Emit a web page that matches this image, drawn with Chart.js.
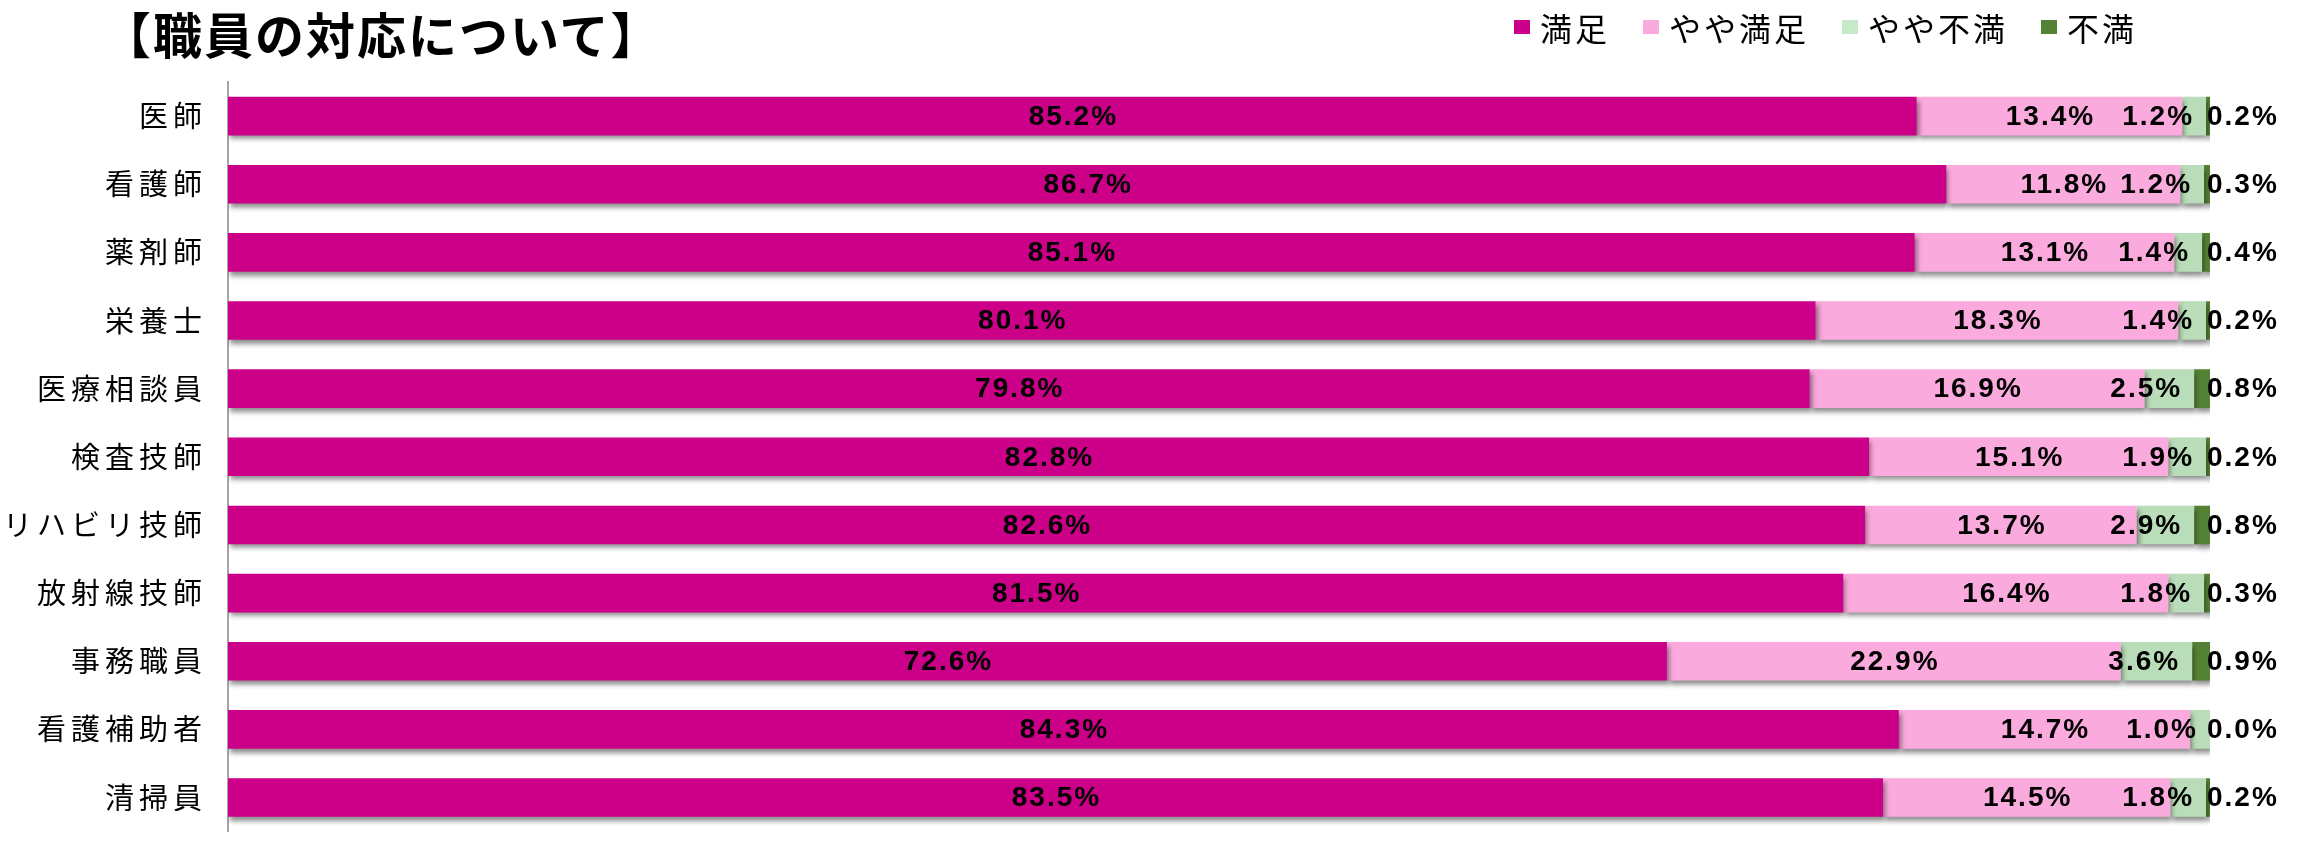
<!DOCTYPE html>
<html>
<head>
<meta charset="utf-8">
<script src="https://cdn.jsdelivr.net/npm/chart.js@4.4.0/dist/chart.umd.min.js"></script>
<style>
    html, body { margin: 0; padding: 0; background: #fff; overflow: hidden; }
    #wrap { position: relative; width: 2302px; height: 849px; overflow: hidden; }
    #title {
        position: absolute; left: 102px; top: -3px; line-height: 52px;
        font: bold 49px "Noto Sans CJK JP", sans-serif; letter-spacing: 2px; color: #000; white-space: nowrap;
    }
    #legend {
        position: absolute; left: 1514px; top: 0; height: 54px;
        display: flex; align-items: center;
        font: 32px "Noto Sans CJK JP", sans-serif; letter-spacing: 3px; color: #000;
    }
    #legend .item { display: flex; align-items: center; margin-right: 33px; }
    #legend .box { width: 16px; height: 14px; margin-right: 10px; }
    #chart { position: absolute; left: 0; top: 0; }
</style>
</head>
<body>
<div id="wrap">
    <canvas id="chart" width="2302" height="870"></canvas>
    <div id="title">【職員の対応について】</div>
    <div id="legend"></div>
</div>
<script>
const categories = ['医師', '看護師', '薬剤師', '栄養士', '医療相談員', '検査技師', 'リハビリ技師', '放射線技師', '事務職員', '看護補助者', '清掃員'];
const seriesNames = ['満足', 'やや満足', 'やや不満', '不満'];
const seriesColors = ['#CC0088', '#FBAADD', '#B9DDB8', '#548235'];
const legendColors = ['#CC0088', '#FBAADD', '#C6EAC7', '#548235'];

const satisfied = [85.2, 86.7, 85.1, 80.1, 79.8, 82.8, 82.6, 81.5, 72.6, 84.3, 83.5];
const somewhatSatisfied = [13.4, 11.8, 13.1, 18.3, 16.9, 15.1, 13.7, 16.4, 22.9, 14.7, 14.5];
const somewhatDissatisfied = [1.2, 1.2, 1.4, 1.4, 2.5, 1.9, 2.9, 1.8, 3.6, 1.0, 1.8];
const dissatisfied = [0.2, 0.3, 0.4, 0.2, 0.8, 0.2, 0.8, 0.3, 0.9, 0.0, 0.2];

const seriesValues = [satisfied, somewhatSatisfied, somewhatDissatisfied, dissatisfied];

// legend
const legendEl = document.getElementById('legend');
seriesNames.forEach((name, i) => {
    const item = document.createElement('div');
    item.className = 'item';
    const box = document.createElement('span');
    box.className = 'box';
    box.style.background = legendColors[i];
    const txt = document.createElement('span');
    txt.textContent = name;
    item.appendChild(box);
    item.appendChild(txt);
    legendEl.appendChild(item);
});

// shadow under bars + value labels
const barDecor = {
    id: 'barDecor',
    beforeDraw: (chart) => {
        chart.ctx.letterSpacing = '5px';
    },
    beforeDatasetsDraw: (chart) => {
        const ctx = chart.ctx;
        ctx.save();
        ctx.shadowColor = 'rgba(0, 0, 0, 0.45)';
        ctx.shadowBlur = 5;
        ctx.shadowOffsetX = 2;
        ctx.shadowOffsetY = 4;
    },
    afterDatasetsDraw: (chart) => {
        const ctx = chart.ctx;
        ctx.restore();
        ctx.save();
        ctx.letterSpacing = '2px';
        ctx.font = 'bold 28px "Liberation Sans", Arial, sans-serif';
        ctx.fillStyle = '#000';
        ctx.textBaseline = 'middle';
        chart.data.datasets.forEach((ds, di) => {
            const meta = chart.getDatasetMeta(di);
            meta.data.forEach((bar, i) => {
                const text = ds.data[i].toFixed(1) + '%';
                const left = bar.base;
                const right = bar.x;
                if (di < 2) {
                    ctx.textAlign = 'center';
                    ctx.fillText(text, (left + right) / 2 + 1, bar.y + 1);
                } else if (di === 2) {
                    ctx.textAlign = 'right';
                    ctx.fillText(text, right - 12, bar.y + 1);
                } else {
                    ctx.textAlign = 'left';
                    ctx.fillText(text, chart.chartArea.right - 3, bar.y + 1);
                }
            });
        });
        ctx.restore();
    }
};

new Chart(document.getElementById('chart').getContext('2d'), {
    type: 'bar',
    data: {
        labels: categories,
        datasets: seriesValues.map((vals, i) => ({
            label: seriesNames[i],
            data: vals,
            backgroundColor: seriesColors[i],
            borderWidth: 0,
            categoryPercentage: 1,
            barPercentage: 0.567
        }))
    },
    options: {
        indexAxis: 'y',
        responsive: false,
        animation: false,
        layout: { padding: { top: 82, bottom: 12, right: 92, left: 0 } },
        plugins: {
            legend: { display: false },
            title: { display: false },
            tooltip: { enabled: false }
        },
        scales: {
            x: {
                stacked: true,
                min: 0,
                max: 100,
                display: false
            },
            y: {
                stacked: true,
                afterFit: (scale) => { scale.width = 228; },
                grid: { display: false, drawTicks: false },
                border: { display: true, color: '#a6a6a6', width: 2 },
                ticks: {
                    padding: 21,
                    color: '#000',
                    font: { family: '"Noto Sans CJK JP", sans-serif', size: 29 }
                }
            }
        }
    },
    plugins: [barDecor]
});
</script>
</body>
</html>
